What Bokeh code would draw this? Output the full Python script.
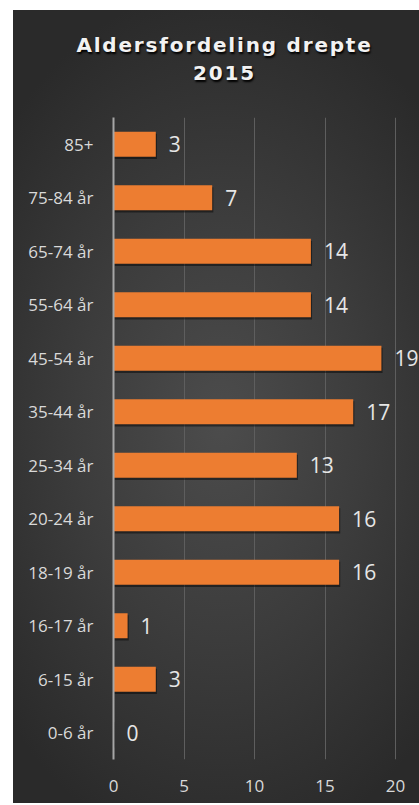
from bokeh.plotting import figure
from bokeh.models import Range1d, FactorRange, FixedTicker, ColumnDataSource, Div
from bokeh.layouts import column
from bokeh.embed import file_html
from bokeh.resources import INLINE

# Data
categories = ["0-6 år", "6-15 år", "16-17 år", "18-19 år", "20-24 år", "25-34 år",
              "35-44 år", "45-54 år", "55-64 år", "65-74 år", "75-84 år", "85+"]
values = [0, 3, 1, 16, 16, 13, 17, 19, 14, 14, 7, 3]
x_ticks = [0, 5, 10, 15, 20]
title_lines = ["Aldersfordeling drepte", "2015"]

src = ColumnDataSource(dict(cat=categories, val=values, lab=[str(v) for v in values]))
shadow_src = ColumnDataSource(dict(cat=[[c, -0.04] for c in categories],
                                   val=[v + 0.08 if v > 0 else 0 for v in values]))

title = Div(
    text=('<div style="display:block; width:406px; box-sizing:border-box; '
          'padding-top:16px; padding-left:7px; text-align:center; '
          'font-family:\'DejaVu Sans\'; font-weight:bold; font-size:20px; line-height:28px; '
          'letter-spacing:1.8px; color:#f2f2f2; text-shadow:1px 2px 2px #000;">'
          + "<br>".join(title_lines) + "</div>"),
    width=406, height=97)

p = figure(width=406, height=686, output_backend="svg", toolbar_location=None,
           y_range=FactorRange(*categories, range_padding=0),
           x_range=Range1d(0, 21.7),
           min_border_left=100, min_border_top=0, min_border_bottom=44, min_border_right=0)
p.border_fill_color = None
p.background_fill_color = None
p.outline_line_color = None

p.hbar(y="cat", right="val", left=0.08, height=0.47, source=shadow_src,
       fill_color="#000000", fill_alpha=0.45, line_color=None)
p.hbar(y="cat", right="val", left=0, height=0.47, source=src,
       fill_color="#ED7D31", line_color=None)
p.text(x="val", y="cat", text="lab", source=src, x_offset=13,
       text_baseline="middle", text_align="left", text_font_size="21px",
       text_color="#e6e6e6", text_font={"value": "Open Sans"})

p.xgrid.ticker = FixedTicker(ticks=x_ticks)
p.xgrid.grid_line_color = "#5e5e5e"
p.xgrid.grid_line_width = 1
p.ygrid.grid_line_color = None

p.xaxis.ticker = FixedTicker(ticks=x_ticks)
p.xaxis.axis_line_color = None
p.xaxis.major_tick_line_color = None
p.xaxis.minor_tick_line_color = None
p.xaxis.major_tick_out = 0
p.xaxis.major_label_standoff = 20
p.xaxis.major_label_text_font = "Open Sans"
p.xaxis.major_label_text_font_size = "17px"
p.xaxis.major_label_text_color = "#d9d9d9"

p.yaxis.axis_line_color = "#a6a6a6"
p.yaxis.axis_line_width = 2
p.yaxis.major_tick_line_color = None
p.yaxis.minor_tick_line_color = None
p.yaxis.major_tick_out = 0
p.yaxis.major_label_standoff = 20
p.yaxis.major_label_text_font = "Open Sans"
p.yaxis.major_label_text_font_size = "17px"
p.yaxis.major_label_text_color = "#d9d9d9"

layout = column(title, p, spacing=0, styles={
    "margin-left": "13px", "margin-top": "10px",
    "background": "radial-gradient(ellipse 70% 55% at 50% 52%, #4c4c4c 0%, #3c3c3c 50%, #2a2a2a 100%)"})

open("out.html", "w").write(file_html(layout, INLINE))
